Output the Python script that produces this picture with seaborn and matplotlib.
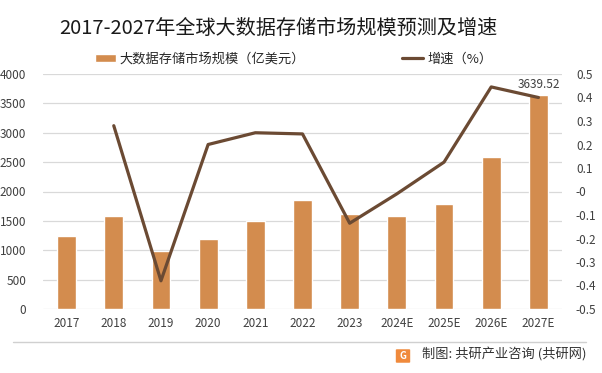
import numpy as np
import pandas as pd
import seaborn as sns
import matplotlib.pyplot as plt
from matplotlib.patches import FancyBboxPatch

# data
years = ['2017', '2018', '2019', '2020', '2021', '2022', '2023',
         '2024E', '2025E', '2026E', '2027E']
market_size = [1250, 1590, 990, 1200, 1490, 1860, 1620, 1590, 1790, 2590, 3639.52]
growth = [np.nan, 0.28, -0.38, 0.20, 0.25, 0.245, -0.135, -0.01, 0.125, 0.445, 0.40]

bar_label = '大数据存储市场规模（亿美元）'
line_label = '增速（%）'
title = '2017-2027年全球大数据存储市场规模预测及增速'
source = '制图: 共研产业咨询 (共研网)'

bar_color = '#D38C4E'
line_color = '#6B4A33'

sns.set_style("white")
plt.rcParams['font.family'] = ['Noto Sans CJK SC', 'DejaVu Sans']

df = pd.DataFrame({'year': years, 'size': market_size,
                   'growth': growth, 'pos': np.arange(len(years))})

fig = plt.figure(figsize=(6.02, 3.73), dpi=100)
ax = fig.add_axes([43 / 602, 1 - 309 / 373, (562 - 43) / 602, (309 - 74) / 373])

sns.barplot(data=df, x='year', y='size', color=bar_color, width=0.4,
            saturation=1, ax=ax, label=bar_label, zorder=2)
if ax.get_legend() is not None:
    ax.get_legend().remove()
ax.set_ylim(0, 4000)
ax.set_yticks(range(0, 4001, 500))
ax.set_xlim(-0.5, len(years) - 0.5)
ax.yaxis.grid(True, color='#D9D9D9', linewidth=0.9)
ax.set_axisbelow(True)
ax.set_xlabel('')
ax.set_ylabel('')
for s in ax.spines.values():
    s.set_visible(False)
ax.tick_params(axis='both', length=0, labelsize=8.5, colors='#404040')
ax.tick_params(axis='y', pad=12)
ax.tick_params(axis='x', pad=6)

ax.text(len(years) - 1, market_size[-1] + 70, f'{market_size[-1]:.2f}',
        ha='center', va='bottom', fontsize=8.5, color='#404040')

ax2 = ax.twinx()
sns.lineplot(data=df, x='pos', y='growth', color=line_color, linewidth=2.3,
             ax=ax2, label=line_label, legend=False, sort=False)
ax2.set_ylim(-0.5, 0.5)
ticks2 = np.round(np.arange(-0.5, 0.51, 0.1), 1)
ax2.set_yticks(ticks2)
ax2.set_yticklabels([f'{v:g}' for v in ticks2])
ax2.set_xlim(-0.5, len(years) - 0.5)
ax2.set_ylabel('')
ax2.set_xlabel('')
for s in ax2.spines.values():
    s.set_visible(False)
ax2.tick_params(axis='y', length=0, labelsize=8.5, colors='#404040', pad=10)

# legends
h1, l1 = ax.get_legend_handles_labels()
h2, l2 = ax2.get_legend_handles_labels()
fig.legend(h1[:1], l1[:1], loc='center', bbox_to_anchor=(200 / 602, 1 - 59 / 373),
           frameon=False, fontsize=9.5, handlelength=1.6, handleheight=0.6,
           handletextpad=0.3, labelcolor='#262626')
fig.legend(h2, l2, loc='center', bbox_to_anchor=(447 / 602, 1 - 59 / 373),
           frameon=False, fontsize=9.5, handlelength=1.6,
           handletextpad=0.3, labelcolor='#262626')

fig.text(0.462, 1 - 28 / 373, title, ha='center', va='center',
         fontsize=14.5, color='#1a1a1a')

# separator and source
fig.add_artist(plt.Line2D([13 / 602, 586 / 602], [1 - 341.5 / 373] * 2,
                          transform=fig.transFigure,
                          color='#D0D0D0', linewidth=1.0))
fig.add_artist(FancyBboxPatch((397 / 602, 1 - 362 / 373), 12 / 602, 12 / 373,
                              boxstyle='round,pad=0.002', transform=fig.transFigure,
                              facecolor='#F08A3C', edgecolor='none'))
fig.text(403 / 602, 1 - 356 / 373, 'G', ha='center', va='center',
         fontsize=7, color='white', fontweight='bold')
fig.text(586 / 602, 1 - 355 / 373, source, ha='right', va='center',
         fontsize=9.5, color='#333333')

plt.savefig('out.png', dpi=100)
